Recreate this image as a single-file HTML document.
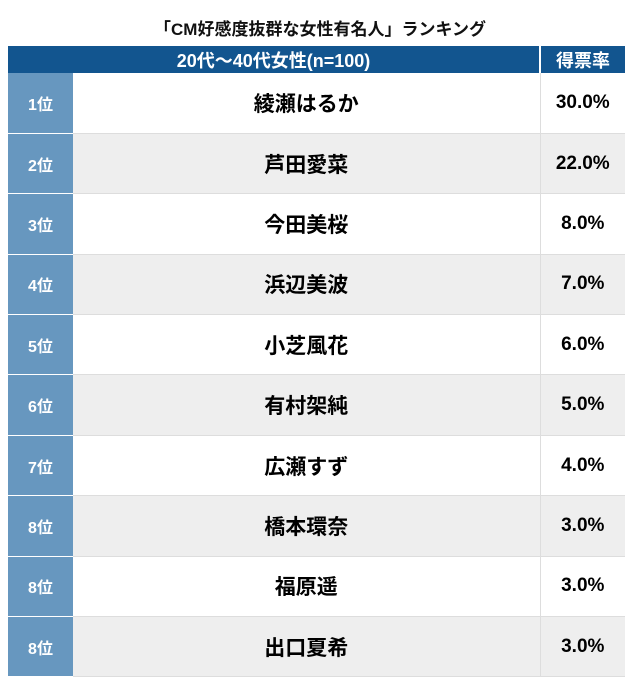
<!DOCTYPE html>
<html><head><meta charset="utf-8"><style>
*{margin:0;padding:0;box-sizing:border-box}
body{width:640px;height:699px;background:#fff;font-family:"Liberation Sans","Noto Sans CJK JP",sans-serif;font-weight:bold;position:relative;overflow:hidden}
.title{position:absolute;top:15px;left:0;width:640px;text-align:center;font-size:17px;color:#111}
table{position:absolute;left:8px;top:46px;width:617px;border-collapse:collapse}
th{background:#12558f;color:#fff;height:27px;font-size:18px;border-right:2px solid #fff}
th:last-child{border-right:none}
td{height:60.4px;text-align:center;border-bottom:1px solid #ddd}
td.r{width:65px;background:#6797bf;color:#fff;font-size:16px;border-bottom:1px solid #fff}
td.n{font-size:21px;color:#000;border-right:1px solid #ddd}
td.v{width:85px;font-size:19px;color:#000}
tr.g td.n,tr.g td.v{background:#eeeeee}
</style></head><body>
<div class="title">「CM好感度抜群な女性有名人」ランキング</div>
<table>
<tr><th colspan="2">20代～40代女性(n=100)</th><th>得票率</th></tr>
<tr><td class="r">1位</td><td class="n">綾瀬はるか</td><td class="v">30.0%</td></tr>
<tr class="g"><td class="r">2位</td><td class="n">芦田愛菜</td><td class="v">22.0%</td></tr>
<tr><td class="r">3位</td><td class="n">今田美桜</td><td class="v">8.0%</td></tr>
<tr class="g"><td class="r">4位</td><td class="n">浜辺美波</td><td class="v">7.0%</td></tr>
<tr><td class="r">5位</td><td class="n">小芝風花</td><td class="v">6.0%</td></tr>
<tr class="g"><td class="r">6位</td><td class="n">有村架純</td><td class="v">5.0%</td></tr>
<tr><td class="r">7位</td><td class="n">広瀬すず</td><td class="v">4.0%</td></tr>
<tr class="g"><td class="r">8位</td><td class="n">橋本環奈</td><td class="v">3.0%</td></tr>
<tr><td class="r">8位</td><td class="n">福原遥</td><td class="v">3.0%</td></tr>
<tr class="g"><td class="r">8位</td><td class="n">出口夏希</td><td class="v">3.0%</td></tr>
</table>
</body></html>
